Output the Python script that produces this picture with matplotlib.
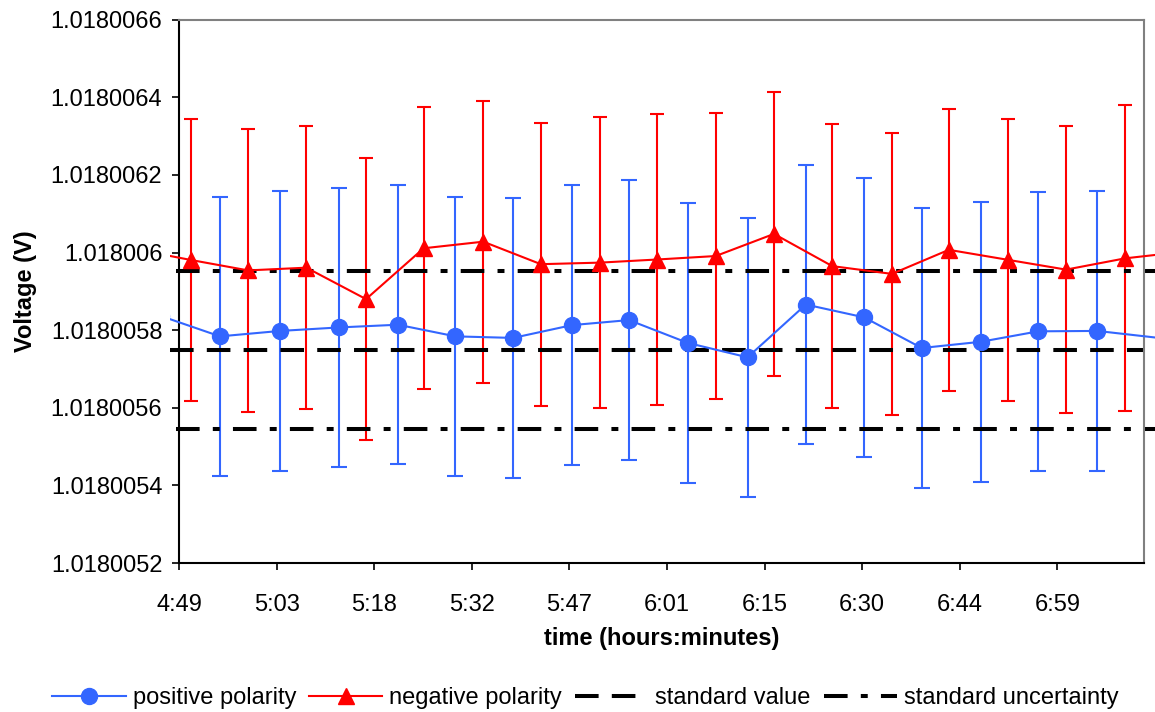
import numpy as np
import matplotlib.pyplot as plt
from matplotlib.ticker import FuncFormatter
from matplotlib.transforms import Bbox, TransformedBbox

plt.rcParams['font.family'] = ['Liberation Sans', 'DejaVu Sans']
plt.rcParams['lines.scale_dashes'] = False

# times in minutes after midnight, voltages as offsets from 1.018 V in units of 1e-7 V
pos_time = [286.4, 295.05, 303.9, 312.6, 321.3, 329.8, 338.3, 347.0, 355.4, 364.1,
            372.9, 381.5, 390.1, 398.6, 407.3, 415.8, 424.5, 434.6]
pos_val = [58.36, 57.84, 57.98, 58.07, 58.14, 57.84, 57.80, 58.13, 58.26, 57.67,
           57.30, 58.66, 58.33, 57.54, 57.70, 57.97, 57.98, 57.78]
pos_err = [3.62] + [3.6] * 16 + [3.6]

neg_time = [282.1, 290.7, 299.2, 307.8, 316.6, 325.1, 333.9, 342.4, 351.1, 359.5,
            368.2, 376.8, 385.4, 394.2, 402.6, 411.4, 419.9, 428.6, 437.2]
neg_val = [60.10, 59.81, 59.54, 59.61, 58.80, 60.11, 60.28, 59.70, 59.74, 59.82,
           59.91, 60.48, 59.65, 59.45, 60.07, 59.81, 59.56, 59.85, 60.02]
neg_err = [3.65, 3.63, 3.64, 3.65, 3.63, 3.63, 3.63, 3.65, 3.74, 3.74,
           3.69, 3.65, 3.65, 3.63, 3.63, 3.63, 3.70, 3.94, 3.65]

std_value = 57.49
std_unc = 2.03

tick_labels = ['4:49', '5:03', '5:18', '5:32', '5:47', '6:01', '6:15', '6:30', '6:44', '6:59']
x_start = 289.0
x_step = 14.4
x_end = 431.4

def volts(v):
    return 1.018 + np.array(v) * 1e-7

blue = '#3366FF'
red = '#FF0000'

fig = plt.figure(figsize=(11.55, 7.12), dpi=100)
ax = fig.add_axes([179 / 1155, 1 - 563 / 712, (1144 - 179) / 1155, (563 - 19.7) / 712])

ax.errorbar(pos_time, volts(pos_val), yerr=np.array(pos_err) * 1e-7, fmt='none',
            ecolor=blue, elinewidth=1.5, capsize=5.8, capthick=1.5, zorder=1)
ax.errorbar(neg_time, volts(neg_val), yerr=np.array(neg_err) * 1e-7, fmt='none',
            ecolor=red, elinewidth=1.5, capsize=5.2, capthick=1.5, zorder=1.1)

span = x_end - x_start
lo = x_start - span * 0.0093
ax.plot([lo, x_end], volts([std_value, std_value]), color='black', lw=2.9,
        dashes=(17, 9.5), zorder=2, label='standard value')
hi = x_end + span * 0.02
ax.plot([lo + span * 0.006, hi], volts([std_value + std_unc] * 2), color='black', lw=2.9,
        dashes=(17, 9.5, 5, 9.5), zorder=2, label='standard uncertainty')
ax.plot([lo + span * 0.006, hi], volts([std_value - std_unc] * 2), color='black', lw=2.9,
        dashes=(17, 9.5, 5, 9.5), zorder=2)

ax.plot(pos_time, volts(pos_val), '-o', color=blue, lw=1.5, ms=11.5, zorder=3,
        label='positive polarity')
ax.plot(neg_time, volts(neg_val), '-^', color=red, lw=1.5, ms=12, zorder=3.1,
        label='negative polarity')

# excel-style clipping: data may run a little past the plot frame
clip = TransformedBbox(Bbox([[-0.0093, -0.05], [1.02, 1.05]]), ax.transAxes)
for a in ax.lines + list(ax.collections):
    a.set_clip_path(None)
    a.set_clip_box(clip)

ax.set_xlim(x_start, x_end)
ax.set_ylim(volts(52), volts(66))
ax.set_xticks([x_start + i * x_step for i in range(len(tick_labels))])
ax.set_xticklabels(tick_labels)
ax.set_yticks(volts(np.arange(52, 67, 2)))
ax.yaxis.set_major_formatter(FuncFormatter(lambda y, p: ('%.7f' % y).rstrip('0')))

for s in ['left', 'bottom']:
    ax.spines[s].set_color('black')
    ax.spines[s].set_linewidth(1.5)
for s in ['top', 'right']:
    ax.spines[s].set_color('#808080')
    ax.spines[s].set_linewidth(1.5)
ax.tick_params(axis='both', direction='out', length=5, width=1.2, labelsize=17, colors='black')
ax.tick_params(axis='y', pad=7)
ax.tick_params(axis='x', pad=17)

ax.set_xlabel('time (hours:minutes)', fontsize=17, fontweight='bold', labelpad=8)
ax.set_ylabel('Voltage (V)', fontsize=17, fontweight='bold', labelpad=10)

h, l = ax.get_legend_handles_labels()
order = [2, 3, 0, 1]
fig.legend([h[i] for i in order], [l[i] for i in order], loc='center',
           bbox_to_anchor=(0.507, 0.019), ncol=4, frameon=False, fontsize=17,
           handlelength=3.1, handletextpad=0.3, columnspacing=0.55, borderpad=0)

plt.savefig('out.png', dpi=100)
